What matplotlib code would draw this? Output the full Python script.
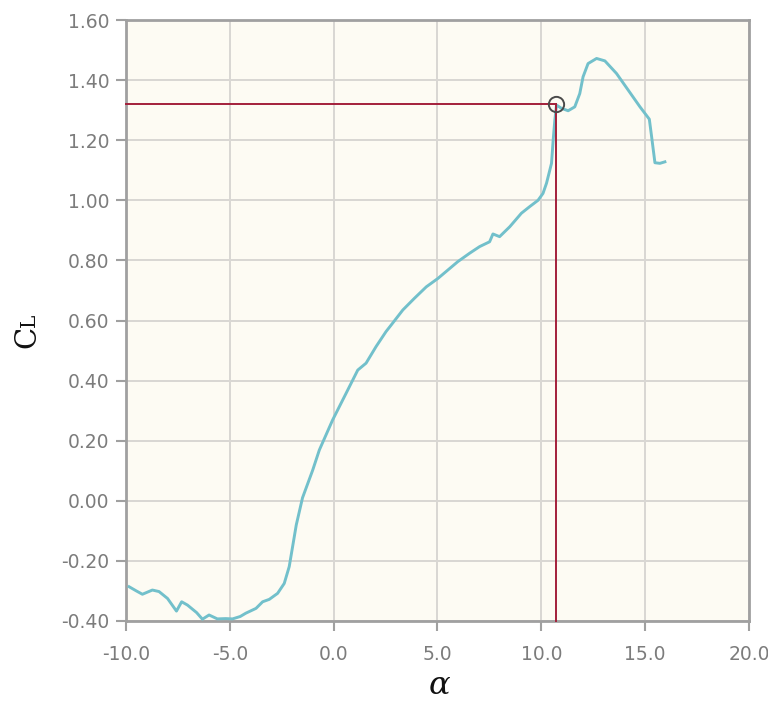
import matplotlib
matplotlib.use("Agg")
import matplotlib.pyplot as plt
from matplotlib.ticker import FixedLocator, FormatStrFormatter

# Lift coefficient polar
alpha = [-9.85, -9.5, -9.21, -8.73, -8.41, -8.0, -7.57, -7.32, -7.04, -6.6,
         -6.32, -6.0, -5.6, -5.2, -4.87, -4.5, -4.23, -3.74, -3.42, -3.1,
         -2.7, -2.38, -2.14, -1.8, -1.5, -1.01, -0.69, -0.05, 0.60, 1.16,
         1.56, 2.04, 2.52, 2.77, 3.33, 3.89, 4.46, 5.02, 5.50, 5.98,
         6.55, 7.03, 7.51, 7.67, 7.99, 8.48, 9.04, 9.44, 9.84, 10.08,
         10.25, 10.49, 10.57, 10.65, 10.73, 10.97, 11.29, 11.61, 11.85, 12.01,
         12.25, 12.66, 13.06, 13.62, 14.18, 14.75, 15.20, 15.31, 15.47, 15.71,
         15.95]
cl = [-0.286, -0.300, -0.311, -0.297, -0.302, -0.325, -0.367, -0.336, -0.347, -0.372,
      -0.394, -0.380, -0.393, -0.392, -0.393, -0.385, -0.374, -0.358, -0.336, -0.328,
      -0.308, -0.275, -0.219, -0.080, 0.010, 0.102, 0.169, 0.269, 0.358, 0.435,
      0.458, 0.513, 0.563, 0.585, 0.635, 0.674, 0.712, 0.740, 0.768, 0.796,
      0.824, 0.846, 0.862, 0.888, 0.879, 0.912, 0.957, 0.979, 1.000, 1.023,
      1.057, 1.123, 1.200, 1.267, 1.317, 1.306, 1.298, 1.311, 1.355, 1.411,
      1.455, 1.472, 1.464, 1.422, 1.367, 1.311, 1.270, 1.212, 1.125, 1.123,
      1.128]

# Selected operating point
alpha_sel = 10.7
cl_sel = 1.32

x_ticks = [-10.0, -5.0, 0.0, 5.0, 10.0, 15.0, 20.0]
y_ticks = [-0.40, -0.20, 0.00, 0.20, 0.40, 0.60, 0.80, 1.00, 1.20, 1.40, 1.60]

plt.rcParams['axes.unicode_minus'] = False
plt.rcParams['font.family'] = ['DejaVu Sans']
plt.rcParams['mathtext.fontset'] = 'dejavuserif'

W, H = 768, 704
fig = plt.figure(figsize=(W / 100, H / 100), dpi=100)
ax = fig.add_axes([126 / W, 1 - 621 / H, (749 - 126) / W, (621 - 20) / H])
ax.set_facecolor('#fdfbf3')

ax.set_xlim(x_ticks[0], x_ticks[-1])
ax.set_ylim(y_ticks[0], y_ticks[-1])
ax.xaxis.set_major_locator(FixedLocator(x_ticks))
ax.yaxis.set_major_locator(FixedLocator(y_ticks))
ax.xaxis.set_major_formatter(FormatStrFormatter('%.1f'))
ax.yaxis.set_major_formatter(FormatStrFormatter('%.2f'))

ax.grid(True, color='#d9d7d3', linewidth=1.4, zorder=0)
ax.set_axisbelow(True)

for side in ['left', 'bottom', 'top', 'right']:
    ax.spines[side].set_color('#a0a0a0')
    ax.spines[side].set_linewidth(2.0)

ax.tick_params(axis='both', direction='out', length=7.5, width=1.5,
               color='#a0a0a0', labelcolor='#7c7c7c', labelsize=13.5)
ax.tick_params(axis='x', pad=9.5)
ax.tick_params(axis='y', pad=4.5)

ax.plot(alpha, cl, color='#72c0cb', linewidth=2.1, zorder=3)

# Guide lines to the selected point
ax.plot([x_ticks[0], alpha_sel], [cl_sel, cl_sel], color='#a3203a',
        linewidth=1.4, zorder=4, clip_on=False)
ax.plot([alpha_sel, alpha_sel], [cl_sel, y_ticks[0]], color='#a3203a',
        linewidth=1.4, zorder=4, clip_on=False)
ax.plot([alpha_sel], [cl_sel], marker='o', markersize=11, markerfacecolor='none',
        markeredgecolor='#4a4a4a', markeredgewidth=1.4, zorder=5)

# Axis titles
ax.set_xlabel(r'$\alpha$', fontsize=23, color='#111111')
ax.xaxis.set_label_coords((439 - 126) / 623, (621 - 701) / 601)
ax.xaxis.label.set_verticalalignment('bottom')

fig.text(35 / W, 1 - 348 / H, 'C', rotation=90, rotation_mode='anchor',
         ha='left', va='baseline', fontsize=21, color='#111111',
         fontfamily='DejaVu Serif')
fig.text(35 / W, 1 - 327 / H, 'L', rotation=90, rotation_mode='anchor',
         ha='left', va='baseline', fontsize=14.5, color='#111111',
         fontfamily='DejaVu Serif')

fig.savefig('out.png', dpi=100)
